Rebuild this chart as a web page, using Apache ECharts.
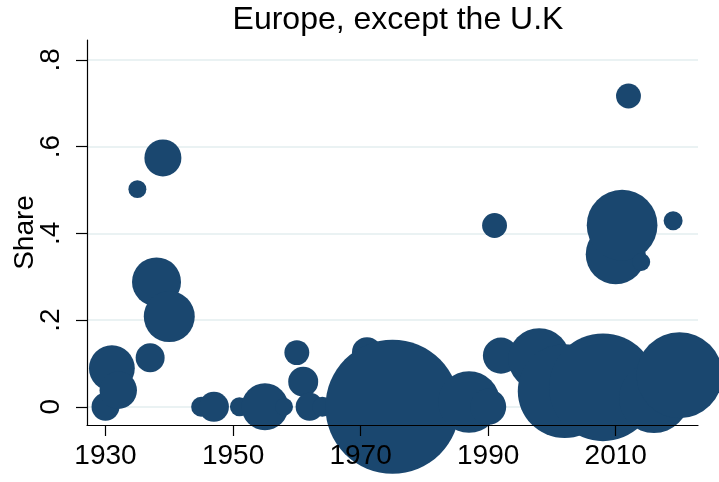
<!DOCTYPE html>
<html>
<head>
<meta charset="utf-8">
<script src="https://cdn.jsdelivr.net/npm/echarts@6/dist/echarts.min.js"></script>
<style>
  html, body { margin: 0; padding: 0; background: #fff; }
  #chart { width: 719px; height: 482px; }
</style>
</head>
<body>
<div id="chart"></div>
<script>
// one bubble per year, size ~ weight (area)
const years   = [1930, 1931, 1932, 1935, 1937, 1938, 1939, 1940, 1945, 1947,
                 1951, 1955, 1958, 1960, 1961, 1962, 1964, 1971, 1975, 1987,
                 1990, 1991, 1992, 1998, 2002, 2008, 2010, 2011, 2012, 2014,
                 2016, 2019, 2020]
const shares  = [0.000, 0.089, 0.038, 0.502, 0.113, 0.288, 0.574, 0.208, 0.000, 0.000,
                 0.000, 0.000, 0.000, 0.125, 0.058, 0.000, 0.000, 0.126, 0.000, 0.011,
                 0.000, 0.418, 0.118, 0.110, 0.036, 0.045, 0.352, 0.419, 0.717, 0.334,
                 0.020, 0.429, 0.073]
const weights = [7.8, 21, 14, 3.2, 8.4, 24, 13.7, 26, 4, 9,
                 3.6, 22, 3.2, 6.2, 9, 7.8, 4, 9, 180, 38,
                 13, 6.2, 13, 38, 88, 116, 36, 50, 6.2, 3.2,
                 49, 3.6, 74]

const xTicks = [1930, 1950, 1970, 1990, 2010]
const yTicks = [0, 0.2, 0.4, 0.6, 0.8]

const font = "'Liberation Sans', Arial, sans-serif"
const navy = '#1a476f'

const points = years.map((y, i) => [y, shares[i], weights[i]])

const chart = echarts.init(document.getElementById('chart'))
chart.setOption({
  animation: false,
  backgroundColor: '#fff',
  title: {
    text: 'Europe, except the U.K',
    left: 393, top: -1,
    textAlign: 'center',
    textStyle: { fontFamily: font, fontSize: 32, fontWeight: 'normal', color: '#000' },
  },
  grid: { left: 87, right: 21, top: 40, bottom: 57, containLabel: false, outerBoundsMode: 'none' },
  xAxis: {
    type: 'value',
    min: 1927.1, max: 2022.9,
    z: 10,
    axisLine: { onZero: false, lineStyle: { color: '#000', width: 1.2 } },
    axisTick: { length: 11, customValues: xTicks, lineStyle: { color: '#000', width: 1.2 } },
    axisLabel: {
      customValues: xTicks, margin: 17,
      fontFamily: font, fontSize: 28, color: '#000',
      formatter: v => String(v),
    },
    splitLine: { show: false },
  },
  yAxis: {
    type: 'value',
    min: -0.042, max: 0.846,
    name: 'Share',
    nameLocation: 'middle',
    nameGap: 48,
    nameMoveOverlap: false,
    nameRotate: 90,
    nameTextStyle: { fontFamily: font, fontSize: 28, color: '#000' },
    axisLine: { show: true, onZero: false, lineStyle: { color: '#000', width: 1.2 } },
    axisTick: { show: true, length: 11, customValues: yTicks, lineStyle: { color: '#000', width: 1.2 } },
    axisLabel: {
      customValues: yTicks,
      rotate: 90,
      margin: 22,
      fontFamily: font, fontSize: 28, color: '#000',
      formatter: v => v === 0 ? '0' : String(v).replace(/^0\./, '.'),
    },
    splitLine: { show: true, lineStyle: { color: '#eaf2f3', width: 2 } },
  },
  series: [{
    type: 'scatter',
    data: points,
    clip: false,
    symbolSize: v => Math.sqrt(v[2]) * 10,
    itemStyle: { color: navy, opacity: 1 },
    emphasis: { disabled: true },
  }],
})
</script>
</body>
</html>
